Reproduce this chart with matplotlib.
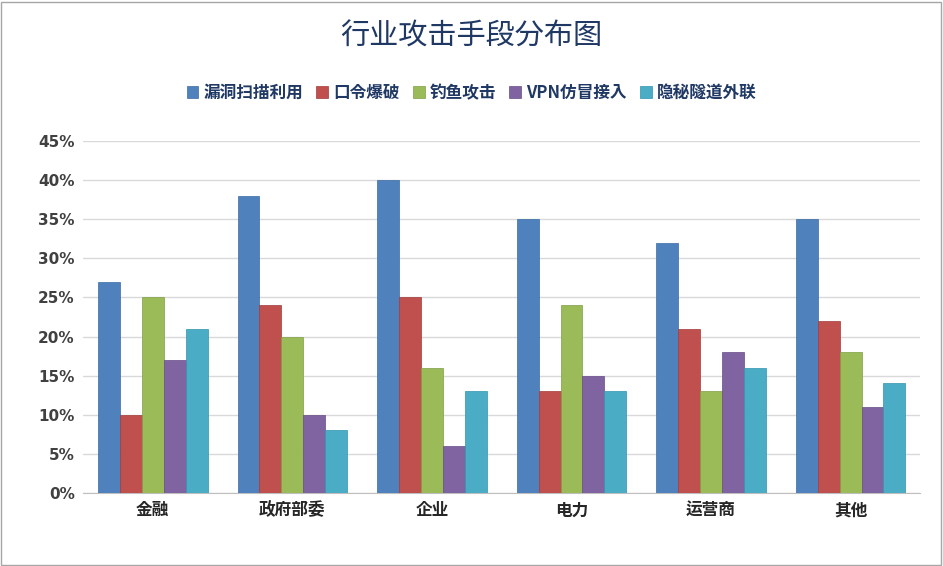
import numpy as np
import matplotlib.pyplot as plt
from matplotlib import font_manager
from matplotlib.patches import Rectangle

# find a CJK font by whatever name it is registered under
cjk = [f.name for f in font_manager.fontManager.ttflist if 'CJK' in f.name]
cjk_name = next((n for n in cjk if 'SC' in n), cjk[0] if cjk else 'DejaVu Sans')
plt.rcParams['font.family'] = [cjk_name, 'DejaVu Sans']

categories = ['金融', '政府部委', '企业', '电力', '运营商', '其他']
series_names = ['漏洞扫描利用', '口令爆破', '钓鱼攻击', 'VPN仿冒接入', '隐秘隧道外联']
vuln_scan = [27, 38, 40, 35, 32, 35]
password = [10, 24, 25, 13, 21, 22]
phishing = [25, 20, 16, 24, 13, 18]
vpn_fake = [17, 10, 6, 15, 18, 11]
tunnel = [21, 8, 13, 13, 16, 14]
values = [vuln_scan, password, phishing, vpn_fake, tunnel]
colors = ['#4F81BD', '#C0504D', '#9BBB59', '#8064A2', '#4BACC6']
edges = ['#3A6BA5', '#A23B38', '#7F9E44', '#654C86', '#3194AE']

fig = plt.figure(figsize=(9.43, 5.66), dpi=100)
fig.patches.append(Rectangle((0.001, 0.002), 0.997, 0.995, transform=fig.transFigure,
                             fill=False, edgecolor='#A6A6A6', linewidth=1))
ax = fig.add_axes([0.088, 0.129, 0.888, 0.622])

x = np.arange(len(categories))
w = 0.157
for i, (name, vals) in enumerate(zip(series_names, values)):
    ax.bar(x + (i - 2) * w, np.array(vals) / 100, width=w, color=colors[i],
           edgecolor=edges[i], linewidth=0.5, label=name, zorder=3)

ax.set_xlim(-0.5, len(categories) - 0.5)
ax.set_ylim(0, 0.45)
ax.set_yticks(np.arange(0, 0.46, 0.05))
ax.set_yticklabels([f'{int(round(v * 100))}%' for v in np.arange(0, 0.46, 0.05)],
                   fontfamily='DejaVu Sans', fontsize=11, color='#404040', fontweight='bold')
ax.set_xticks(x)
ax.set_xticklabels(categories, fontsize=12, color='#262626', fontweight='bold')
ax.grid(axis='y', color='#D9D9D9', linewidth=1, zorder=0)
for s in ['top', 'right', 'left']:
    ax.spines[s].set_visible(False)
ax.spines['bottom'].set_color('#BFBFBF')
ax.tick_params(axis='both', length=0, pad=6)

fig.text(0.5, 0.935, '行业攻击手段分布图', ha='center', va='center',
         fontsize=21, color='#1F3864')
fig.legend(loc='center', bbox_to_anchor=(0.5, 0.836), ncol=5, frameon=False,
           prop={'size': 12, 'weight': 'bold'}, handlelength=0.7, handleheight=0.7,
           columnspacing=0.8, handletextpad=0.3, labelcolor='#1F3864')

fig.savefig('out.png', dpi=100)
